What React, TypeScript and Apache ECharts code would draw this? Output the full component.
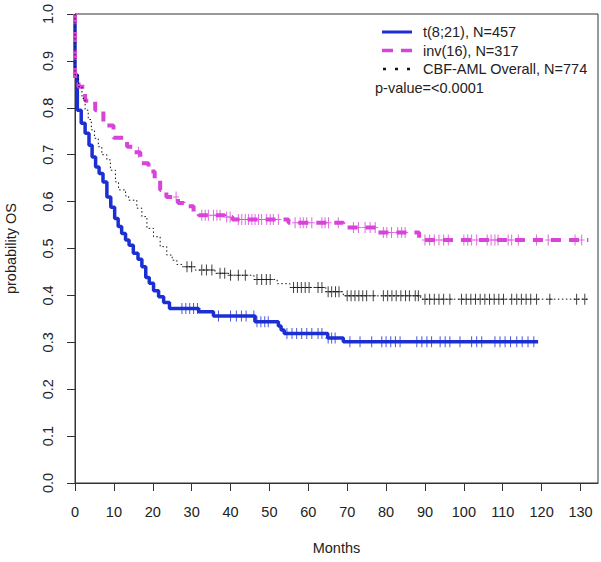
import React, { useEffect, useRef } from "react";
import * as echarts from "echarts";

// ---- axis ticks ----
const xTicks = [0, 10, 20, 30, 40, 50, 60, 70, 80, 90, 100, 110, 120, 130];
const yTicks = [0, 0.1, 0.2, 0.3, 0.4, 0.5, 0.6, 0.7, 0.8, 0.9, 1.0];

// ---- legend labels ----
const seriesNames = ["t(8;21), N=457", "inv(16), N=317", "CBF-AML Overall, N=774"];
const pValueText = "p-value=<0.0001";

// ---- t(8;21) Kaplan-Meier steps ----
const blueTimes = [0, 0, 0.6, 1.6, 2.6, 3.6, 4.4, 5.3, 6.2, 7.2, 8.2, 9.2, 10.2, 11.1, 12.0, 13.0, 13.9, 15.0, 16.2, 17.2, 18.2, 19.1, 20.2, 21.5, 22.8, 24.3, 26.2, 31.8, 35.6, 46.3, 52.3, 53.0, 53.8, 65.0, 69.0, 119.1];
const blueSurv = [1.0, 0.87, 0.795, 0.767, 0.746, 0.72, 0.695, 0.674, 0.66, 0.642, 0.61, 0.588, 0.564, 0.547, 0.532, 0.518, 0.507, 0.49, 0.477, 0.461, 0.438, 0.426, 0.41, 0.397, 0.385, 0.372, 0.372, 0.365, 0.356, 0.344, 0.335, 0.326, 0.319, 0.309, 0.301, 0.301];
const blueCensor = [27.5, 28.5, 29.5, 30.5, 31.5, 36.9, 40.0, 41.5, 42.8, 44.0, 46.0, 46.8, 47.8, 48.8, 49.7, 54.5, 55.8, 57.0, 58.3, 59.6, 60.9, 62.5, 63.5, 65.1, 66.0, 66.9, 70.7, 73.3, 76.3, 78.9, 80.0, 81.2, 82.4, 83.6, 87.9, 89.2, 90.5, 91.7, 93.9, 95.2, 96.4, 99.0, 102.0, 103.3, 104.6, 108.0, 109.3, 110.6, 112.0, 113.6, 115.0, 116.5, 118.0];

// ---- inv(16) Kaplan-Meier steps ----
const pinkTimes = [0, 0, 0.9, 2.6, 5.2, 7.3, 9.9, 13.4, 15.0, 16.8, 18.9, 20.5, 21.9, 23.5, 26.5, 28.0, 30.5, 31.8, 38.5, 40.5, 54.9, 69.0, 78.0, 88.5, 132.0];
const pinkSurv = [1.0, 0.86, 0.845, 0.815, 0.795, 0.762, 0.736, 0.717, 0.705, 0.682, 0.664, 0.648, 0.625, 0.61, 0.597, 0.59, 0.578, 0.571, 0.567, 0.562, 0.555, 0.545, 0.534, 0.518, 0.518];
const pinkCensor = [16.3, 26.0, 32.6, 33.5, 34.3, 35.6, 36.5, 37.3, 39.0, 39.9, 42.0, 42.9, 43.8, 44.6, 45.5, 46.3, 47.2, 48.0, 49.3, 50.2, 51.0, 52.3, 56.6, 57.9, 58.7, 59.6, 60.9, 63.5, 64.3, 65.2, 67.7, 71.6, 72.9, 74.6, 75.9, 77.2, 79.3, 80.2, 81.4, 83.0, 84.0, 84.9, 90.0, 91.2, 92.4, 93.6, 94.8, 96.0, 100.0, 101.0, 102.0, 103.3, 106.0, 107.0, 108.0, 108.8, 111.4, 112.3, 114.0, 118.7, 121.7, 128.6, 130.3];

// ---- CBF-AML overall Kaplan-Meier steps ----
const allTimes = [0, 0, 0.9, 1.8, 2.6, 3.4, 4.2, 5.0, 6.0, 6.9, 8.2, 9.1, 10.4, 11.2, 13.0, 13.8, 15.9, 17.2, 18.5, 20.2, 21.9, 23.6, 25.0, 26.2, 27.5, 30.9, 36.0, 40.0, 46.0, 52.0, 55.3, 64.5, 69.0, 88.9, 132.0];
const allSurv = [1.0, 0.87, 0.845, 0.82, 0.795, 0.775, 0.753, 0.735, 0.717, 0.70, 0.689, 0.667, 0.642, 0.625, 0.612, 0.603, 0.586, 0.568, 0.543, 0.525, 0.504, 0.486, 0.475, 0.466, 0.461, 0.454, 0.447, 0.443, 0.434, 0.425, 0.417, 0.408, 0.399, 0.392, 0.392];
const allCensor = [28.8, 30.0, 32.6, 33.8, 35.2, 37.3, 38.5, 40.0, 42.0, 43.8, 46.8, 48.0, 49.2, 50.2, 56.2, 57.2, 58.2, 59.2, 60.2, 62.5, 63.5, 65.1, 66.0, 67.0, 67.9, 70.0, 71.0, 72.0, 73.0, 74.0, 75.0, 76.7, 79.3, 80.4, 81.5, 82.6, 83.8, 85.0, 86.0, 87.5, 88.3, 90.0, 91.2, 92.4, 93.6, 94.8, 96.4, 99.4, 100.6, 101.8, 103.0, 104.2, 105.4, 106.6, 107.8, 109.0, 110.2, 112.3, 113.6, 114.8, 116.0, 117.2, 118.7, 122.1, 129.0, 131.1];

const BLUE = "#1c2fd2";
const PINK = "#d843d8";
const BLACK = "#111111";
const FONT = '"Liberation Sans", Arial, sans-serif';
const TXT = "#222222";

const PLUS = "path://M2.5,0h1v11h-1zM0,5h6v1h-6z";

function survAt(times: number[], surv: number[], t: number) {
  let v = surv[0];
  for (let i = 0; i < times.length; i++) {
    if (times[i] <= t) v = surv[i];
  }
  return v;
}

function steps(times: number[], surv: number[]) {
  return times.map((t, i) => [t, surv[i]]);
}

function marks(times: number[], surv: number[], cens: number[]) {
  return cens.map((t) => [t, survAt(times, surv, t)]);
}

export default function App() {
  const ref = useRef<HTMLDivElement>(null);
  useEffect(() => {
    const chart = echarts.init(ref.current!, null, { renderer: "svg" });
    const option: any = {
      animation: false,
      backgroundColor: "#ffffff",
      grid: {
        left: 75,
        right: 3,
        top: 14,
        bottom: 79,
        containLabel: false,
        outerBoundsMode: "none",
        show: true,
        borderColor: "#333",
        borderWidth: 1,
      },
      xAxis: {
        type: "value",
        min: 0,
        max: 134.5,
        name: "Months",
        nameLocation: "middle",
        nameGap: 57,
        nameTextStyle: { fontFamily: FONT, fontSize: 14.5, color: TXT },
        axisLine: { show: true, onZero: false, lineStyle: { color: "#333", width: 1 } },
        axisTick: { show: true, length: 8, customValues: xTicks, lineStyle: { color: "#333" } },
        axisLabel: { customValues: xTicks, margin: 21, fontFamily: FONT, fontSize: 14.5, color: TXT },
        splitLine: { show: false },
      },
      yAxis: {
        type: "value",
        min: 0,
        max: 1,
        interval: 0.1,
        name: "probability OS",
        nameLocation: "middle",
        nameGap: 57,
        nameRotate: 90,
        nameTextStyle: { fontFamily: FONT, fontSize: 14.5, color: TXT },
        axisLine: { show: true, onZero: false, lineStyle: { color: "#333", width: 1 } },
        axisTick: { show: true, length: 8, customValues: yTicks, lineStyle: { color: "#333" } },
        axisLabel: {
          customValues: yTicks,
          rotate: 90,
          margin: 20,
          fontFamily: FONT,
          fontSize: 14.5,
          color: TXT,
          formatter: (v: number) => v.toFixed(1),
        },
        splitLine: { show: false },
      },
      series: [
        {
          name: seriesNames[0],
          type: "line",
          step: "end",
          data: steps(blueTimes, blueSurv),
          showSymbol: false,
          symbol: "none",
          lineStyle: { color: BLUE, width: 3.5 },
          z: 2,
        },
        {
          type: "scatter",
          data: marks(blueTimes, blueSurv, blueCensor),
          symbol: PLUS,
          symbolSize: [6, 11],
          itemStyle: { color: BLUE },
          z: 3,
        },
        {
          name: seriesNames[1],
          type: "line",
          step: "end",
          data: steps(pinkTimes, pinkSurv),
          showSymbol: false,
          symbol: "none",
          lineStyle: { color: PINK, width: 4, type: [10, 8] },
          z: 4,
        },
        {
          type: "scatter",
          data: marks(pinkTimes, pinkSurv, pinkCensor),
          symbol: PLUS,
          symbolSize: [6, 11],
          itemStyle: { color: PINK },
          z: 5,
        },
        {
          name: seriesNames[2],
          type: "line",
          step: "end",
          data: steps(allTimes, allSurv),
          showSymbol: false,
          symbol: "none",
          lineStyle: { color: BLACK, width: 1, type: [1.5, 2.5] },
          z: 6,
        },
        {
          type: "scatter",
          data: marks(allTimes, allSurv, allCensor),
          symbol: PLUS,
          symbolSize: [6, 11],
          itemStyle: { color: BLACK },
          z: 7,
        },
      ],
      graphic: [
        { type: "line", shape: { x1: 382, y1: 32, x2: 412, y2: 32 }, style: { stroke: BLUE, lineWidth: 3 } },
        { type: "line", shape: { x1: 382, y1: 50.5, x2: 412, y2: 50.5 }, style: { stroke: PINK, lineWidth: 3.5, lineDash: [11, 8] } },
        { type: "line", shape: { x1: 383, y1: 69, x2: 411, y2: 69 }, style: { stroke: BLACK, lineWidth: 2.5, lineDash: [3, 9] } },
        { type: "text", x: 423, y: 32, style: { text: seriesNames[0], fontFamily: FONT, fontSize: 14.5, fill: TXT, verticalAlign: "middle" } },
        { type: "text", x: 423, y: 50.5, style: { text: seriesNames[1], fontFamily: FONT, fontSize: 14.5, fill: TXT, verticalAlign: "middle" } },
        { type: "text", x: 423, y: 69, style: { text: seriesNames[2], fontFamily: FONT, fontSize: 14.5, fill: TXT, verticalAlign: "middle" } },
        { type: "text", x: 375, y: 88, style: { text: pValueText, fontFamily: FONT, fontSize: 14.5, fill: TXT, verticalAlign: "middle" } },
      ],
    };
    chart.setOption(option);
    return () => chart.dispose();
  }, []);
  return <div ref={ref} style={{ position: "fixed", left: 0, top: 0, width: 601, height: 562 }} />;
}
